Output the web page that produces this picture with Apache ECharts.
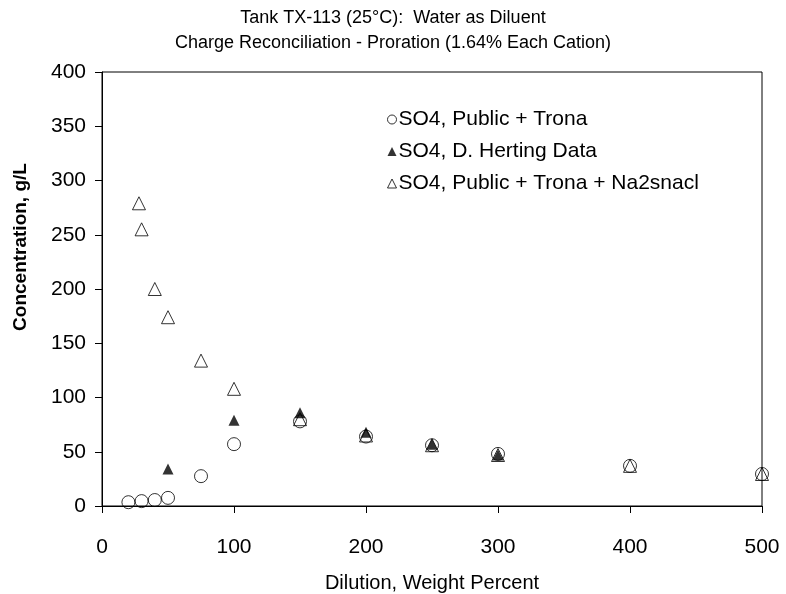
<!DOCTYPE html>
<html><head><meta charset="utf-8">
<script src="https://cdn.jsdelivr.net/npm/echarts@6/dist/echarts.min.js"></script>
<style>html,body{margin:0;padding:0;background:#fff}#c{width:786px;height:594px}</style>
</head><body><div id="c"></div>
<script>
var seriesNames = ['SO4, Public + Trona', 'SO4, D. Herting Data', 'SO4, Public + Trona + Na2snacl'];
var publicTrona = [[20,3.5],[30,4.5],[40,5.5],[50,7.5],[75,27.5],[100,57],[150,78],[200,64],[250,56],[300,48],[400,37],[500,29.5]];
var herting = [[50,34],[100,79],[150,86],[200,68],[250,57],[300,47]];
var na2snacl = [[28,279],[30,255],[40,200],[50,174],[75,134],[100,108],[150,80],[200,65],[250,56],[300,47],[400,37],[500,29.5]];
var titleLines = ['Tank TX-113 (25\u00B0C):  Water as Diluent', 'Charge Reconciliation - Proration (1.64% Each Cation)'];

var F = '"Liberation Sans", Arial, sans-serif';
var chart = echarts.init(document.getElementById('c'), null, {renderer:'canvas'});
chart.setOption({
  animation:false,
  backgroundColor:'#fff',
  title:{text:titleLines.join('\n'), left:'center', top:1,
    textStyle:{fontFamily:F, fontSize:18, fontWeight:'normal', color:'#000', lineHeight:25}},
  grid:{left:102, right:24, top:72, bottom:88, show:true, borderColor:'#000', borderWidth:1,
    containLabel:false, outerBoundsMode:'none'},
  legend:{orient:'vertical', left:382, top:104, itemGap:11, itemWidth:9, itemHeight:9,
    textStyle:{fontFamily:F, fontSize:21, color:'#000', padding:[0,0,0,-3]},
    data:[
      {name:seriesNames[0], icon:'circle', itemStyle:{color:'#fff', borderColor:'#000', borderWidth:1}},
      {name:seriesNames[1], icon:'triangle', itemStyle:{color:'#000'}},
      {name:seriesNames[2], icon:'triangle', itemStyle:{color:'#fff', borderColor:'#000', borderWidth:1}}
    ]},
  xAxis:{type:'value', min:0, max:500, interval:100,
    name:'Dilution, Weight Percent', nameLocation:'middle', nameGap:67,
    nameTextStyle:{fontFamily:F, fontSize:20, color:'#000'},
    axisLine:{show:true, lineStyle:{color:'#000'}},
    axisTick:{show:true, length:7, lineStyle:{color:'#000'}},
    axisLabel:{fontFamily:F, fontSize:21, color:'#000', margin:31},
    splitLine:{show:false}},
  yAxis:{type:'value', min:0, max:400, interval:50,
    name:'Concentration, g/L', nameLocation:'middle', nameGap:72,
    nameTextStyle:{fontFamily:F, fontSize:19, fontWeight:'bold', color:'#000', padding:[0,0,0,84]},
    axisLine:{show:true, lineStyle:{color:'#000'}},
    axisTick:{show:true, length:7, lineStyle:{color:'#000'}},
    axisLabel:{fontFamily:F, fontSize:21, color:'#000', margin:16},
    splitLine:{show:false}},
  series:[
    {name:seriesNames[0], type:'scatter', data:publicTrona, symbol:'circle', symbolSize:13,
     itemStyle:{color:'rgba(255,255,255,0)', borderColor:'#000', borderWidth:1}},
    {name:seriesNames[1], type:'scatter', data:herting, symbol:'triangle', symbolSize:11,
     itemStyle:{color:'#000'}},
    {name:seriesNames[2], type:'scatter', data:na2snacl, symbol:'triangle', symbolSize:13,
     itemStyle:{color:'rgba(255,255,255,0)', borderColor:'#000', borderWidth:1}}
  ]
});
</script></body></html>
